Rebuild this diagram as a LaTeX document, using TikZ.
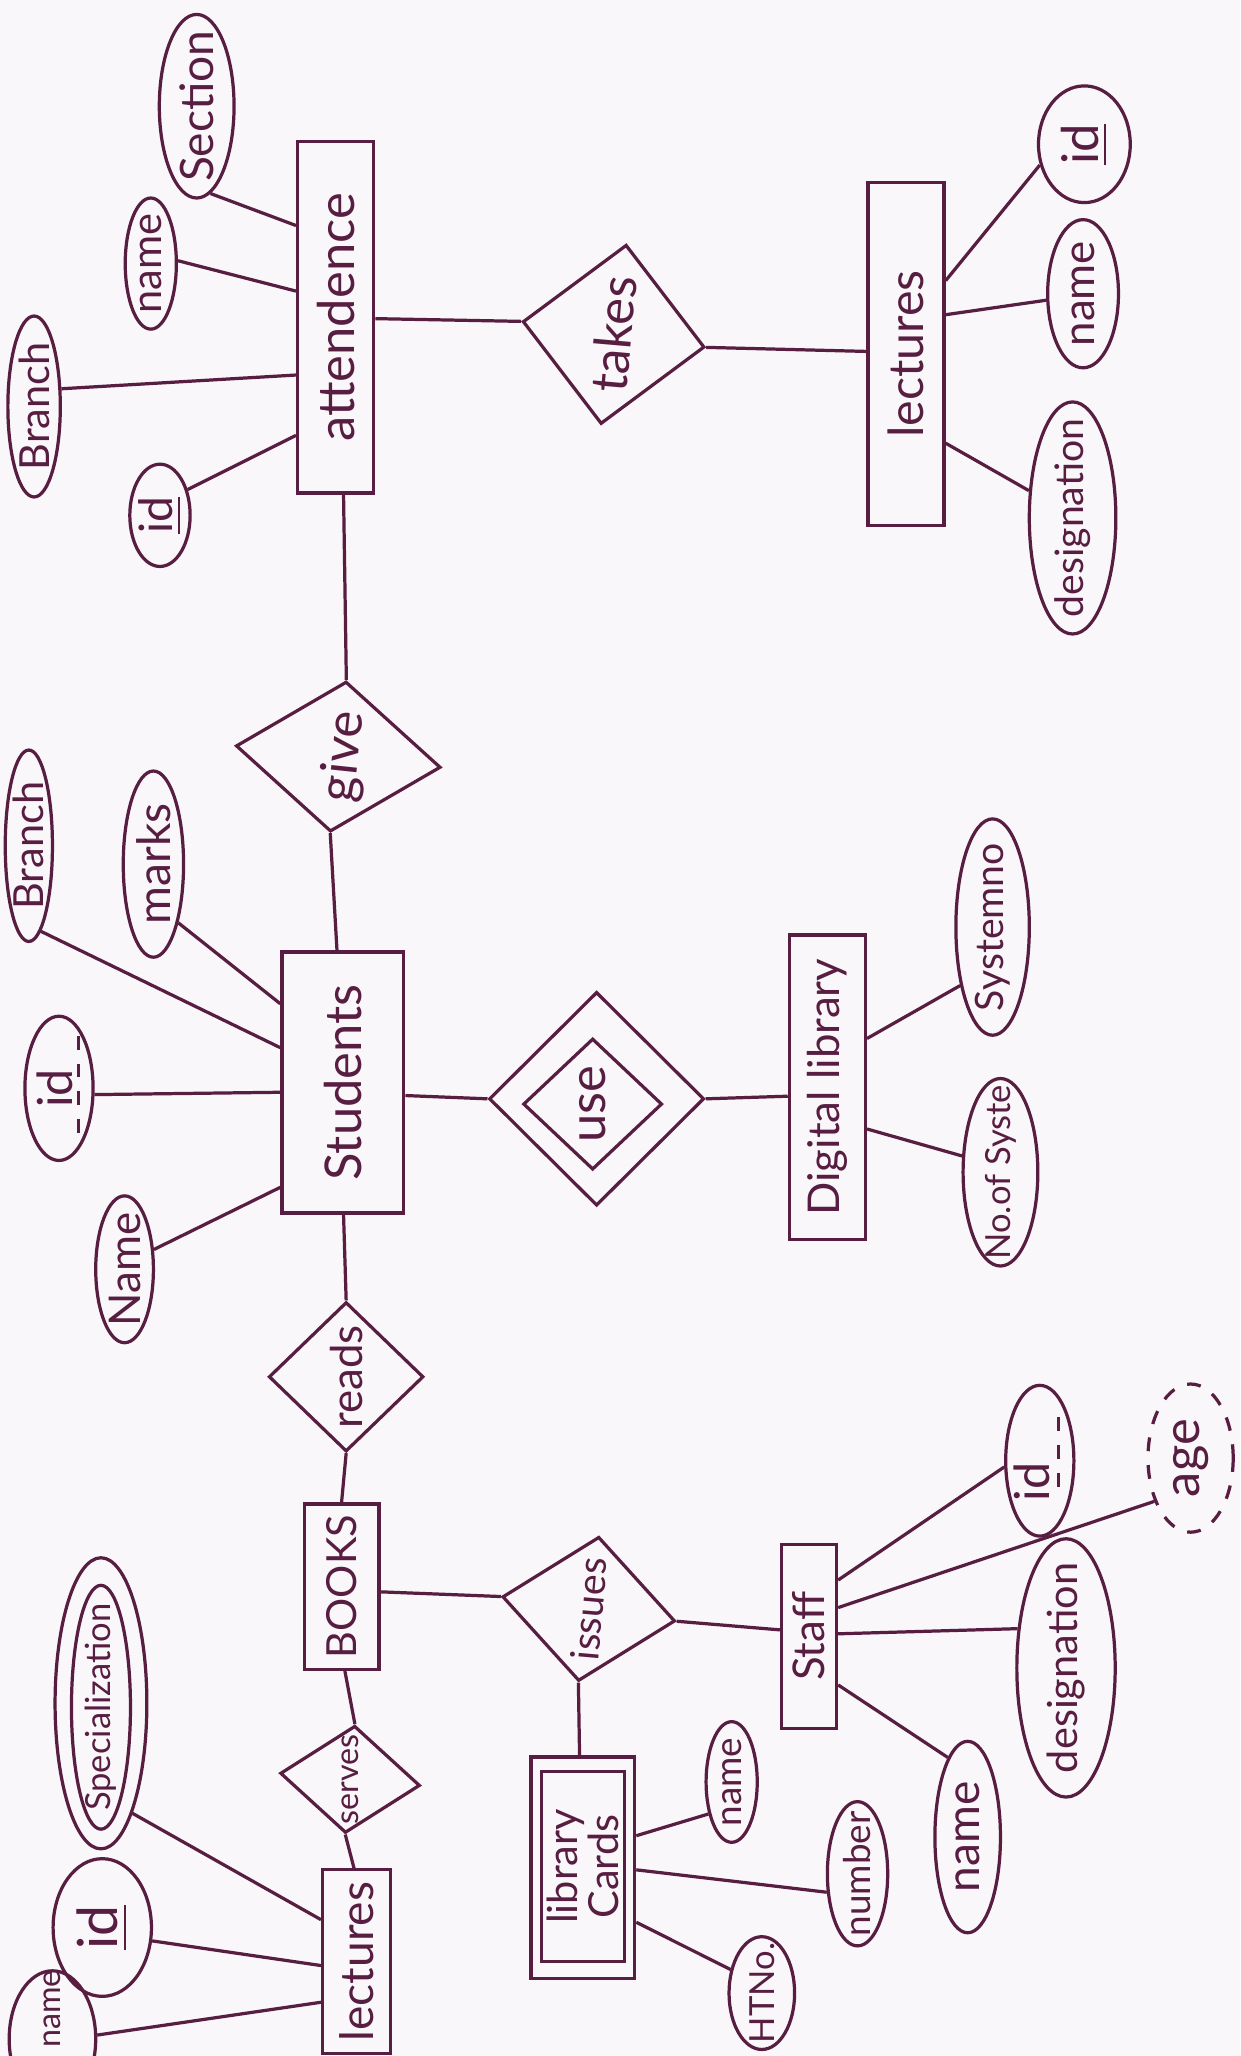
\documentclass[tikz,border=0pt]{standalone}
\usepackage{fontspec}
\setmainfont{Lato}
\usetikzlibrary{shapes.geometric,calc}
\definecolor{ink}{RGB}{88,30,66}
\definecolor{paper}{RGB}{249,247,249}
\newcommand\tsz[1]{\fontsize{#1}{#1}\selectfont}
\tikzset{
  ent/.style={draw=ink, line width=0.7pt, rectangle, inner sep=0pt},
  attr/.style={draw=ink, line width=0.7pt, ellipse, inner sep=0pt},
  rel/.style={draw=ink, line width=0.7pt, diamond, inner sep=0pt},
  lnk/.style={draw=ink, line width=0.7pt},
  lbl/.style={text=ink, inner sep=0pt, rotate=90},
}
\begin{document}
\begin{tikzpicture}[x=0.1mm,y=-0.1mm]
\useasboundingbox (0,0) rectangle (946,1568);
\clip (0,0) rectangle (946,1568);
\fill[paper] (0,0) rectangle (946,1568);

% ---------- top: attendance / takes / lectures
\node[ent, minimum width=5.8mm, minimum height=26.8mm] (att) at (256,242) {};
\node[lbl, font=\tsz{11}] (attT) at (att) {attendence};
\node[attr, minimum width=5.7mm, minimum height=14mm] (sec) at (150,81) {};
\node[lbl, font=\tsz{10}] (secT) at (sec) {Section};
\node[attr, minimum width=3.9mm, minimum height=10mm] (attname) at (115,201) {};
\node[lbl, font=\tsz{9}] (attnameT) at (attname) {name};
\node[attr, minimum width=4mm, minimum height=13.8mm] (attbr) at (26,310) {};
\node[lbl, font=\tsz{9}] (attbrT) at (attbr) {Branch};
\node[attr, minimum width=4.6mm, minimum height=7.8mm] (attid) at (122,393) {};
\node[lbl, font=\tsz{10}] (attidT) at (attid) {\underline{id}};

\node[rel, rotate=-8, minimum width=14mm, minimum height=13.8mm] (takes) at (468,255) {};
\node[lbl, rotate=-5, font=\tsz{11}] (takesT) at (takes) {takes};

\node[ent, minimum width=5.8mm, minimum height=26.2mm] (lec1) at (691,270) {};
\node[lbl, font=\tsz{10.5}] (lec1T) at (lec1) {lectures};
\node[attr, minimum width=7mm, minimum height=8.9mm] (lec1id) at (827,110) {};
\node[lbl, font=\tsz{11}] (lec1idT) at (lec1id) {\underline{id}};
\node[attr, minimum width=5.4mm, minimum height=11.3mm] (lec1name) at (826,224) {};
\node[lbl, font=\tsz{9.5}] (lec1nameT) at (lec1name) {name};
\node[attr, minimum width=6.6mm, minimum height=17.7mm] (lec1des) at (818,395) {};
\node[lbl, font=\tsz{8.5}] (lec1desT) at (lec1des) {designation};

\draw[lnk] ([yshift=7mm]att.west) -- (sec.-81);
\draw[lnk] ([yshift=2mm]att.west) -- (attname.6);
\draw[lnk] ([yshift=-4.4mm]att.west) -- (attbr.33);
\draw[lnk] ([yshift=-9mm]att.west) -- (attid.43);
\draw[lnk] ([yshift=-0.1mm]att.east) -- (takes.west);
\draw[lnk] (takes.east) -- ([yshift=0.2mm]lec1.west);
\draw[lnk] ([yshift=5.6mm]lec1.east) -- (lec1id.205);
\draw[lnk] ([yshift=3mm]lec1.east) -- (lec1name.190);
\draw[lnk] ([yshift=-6.8mm]lec1.east) -- (lec1des.148);

% ---------- middle: give / students / use / digital library
\node[rel, rotate=-6, minimum width=15.7mm, minimum height=11.5mm] (give) at (258,577) {};
\node[lbl, rotate=-6, font=\tsz{11}] (giveT) at ([xshift=0.5mm]give.center) {give};

\node[ent, minimum width=9.3mm, minimum height=19.9mm] (stu) at (261.5,825.5) {};
\node[lbl, font=\tsz{11}] (stuT) at (stu) {Students};
\node[attr, minimum width=3.6mm, minimum height=14.6mm] (stubr) at (22,645) {};
\node[lbl, font=\tsz{9}] (stubrT) at (stubr) {Branch};
\node[attr, minimum width=4.6mm, minimum height=14.2mm] (stumarks) at (117,659) {};
\node[lbl, font=\tsz{10}] (stumarksT) at (stumarks) {marks};
\node[attr, minimum width=5.2mm, minimum height=11mm] (stuid) at (45,830) {};
\node[lbl, font=\tsz{10.5}] (stuidT) at ([xshift=-0.3mm]stuid.center) {id};
\draw[lnk, dashed] ([xshift=1.5mm,yshift=4mm]stuid.center) -- ([xshift=1.5mm,yshift=-4mm]stuid.center);
\node[attr, minimum width=4.4mm, minimum height=11.2mm] (stuname) at (95,968) {};
\node[lbl, font=\tsz{9.5}] (stunameT) at (stuname) {Name};

\node[rel, minimum width=16.4mm, minimum height=16.3mm] (use) at (455,838) {};
\node[rel, minimum width=10.6mm, minimum height=10mm] (usein) at (452,842) {};
\node[lbl, font=\tsz{11}] (useT) at (usein) {use};

\node[ent, minimum width=5.8mm, minimum height=23.2mm] (dl) at (631,829) {};
\node[lbl, font=\tsz{9.5}] (dlT) at (dl) {Digital library};
\node[attr, minimum width=5.6mm, minimum height=16.5mm] (dlsys) at (757,707) {};
\node[lbl, font=\tsz{8.5}] (dlsysT) at (dlsys) {Systemno};
\node[attr, minimum width=5.7mm, minimum height=14.3mm] (dlno) at (763,894) {};
\node[lbl, font=\tsz{7.5}] (dlnoT) at (dlno) {No.of Syste};

\draw[lnk] ([xshift=0.6mm]att.south) -- (give.north);
\draw[lnk] (give.south) -- ([xshift=-0.45mm]stu.north);
\draw[lnk] ([yshift=2.65mm]stu.west) -- (stubr.-82);
\draw[lnk] ([yshift=6mm]stu.west) -- (stumarks.-67);
\draw[lnk] ([yshift=-0.75mm]stu.west) -- (stuid.-10);
\draw[lnk] ([yshift=-8mm]stu.west) -- (stuname.34);
\draw[lnk] ([yshift=-1mm]stu.east) -- (use.west);
\draw[lnk] (use.east) -- ([yshift=-0.7mm]dl.west);
\draw[lnk] ([yshift=3.7mm]dl.east) -- (dlsys.241);
\draw[lnk] ([yshift=-3.2mm]dl.east) -- (dlno.157);

% ---------- bottom: reads / books / serves / lectures / issues / staff / library cards
\node[rel, minimum width=11.8mm, minimum height=11.4mm] (reads) at (264,1050) {};
\node[lbl, font=\tsz{9.5}] (readsT) at (reads) {reads};
\node[ent, minimum width=5.7mm, minimum height=12.6mm] (books) at (260.5,1210) {};
\node[lbl, font=\tsz{9}] (booksT) at (books) {BOOKS};
\node[rel, rotate=-5, minimum width=10.7mm, minimum height=8.2mm] (serves) at (267,1357) {};
\node[lbl, font=\tsz{7}] (servesT) at (serves) {serves};
\node[ent, minimum width=5.2mm, minimum height=14mm] (lec2) at (272,1496) {};
\node[lbl, font=\tsz{10}] (lec2T) at (lec2) {lectures};
\node[attr, minimum width=7mm, minimum height=22.2mm] (spec) at (77,1299) {};
\node[attr, minimum width=4.5mm, minimum height=18.6mm] (specin) at (77,1302) {};
\node[lbl, font=\tsz{7.5}] (specT) at (specin) {Specialization};
\node[attr, minimum width=7.5mm, minimum height=10.5mm] (lec2id) at (78,1470) {};
\node[lbl, font=\tsz{12}] (lec2idT) at (lec2id) {\underline{id}};
\node[attr, minimum width=6.6mm, minimum height=10.4mm] (lec2name) at (40,1555) {};
\node[lbl, font=\tsz{7}] (lec2nameT) at ([yshift=2.3mm]lec2name.center) {name};

\node[rel, rotate=-8, minimum width=13.3mm, minimum height=11.1mm] (issues) at (449,1227) {};
\node[lbl, rotate=-5, font=\tsz{8.5}] (issuesT) at (issues) {issues};
\node[ent, minimum width=4.2mm, minimum height=14mm] (staff) at (617,1248) {};
\node[lbl, font=\tsz{9.5}] (staffT) at (staff) {Staff};

\node[ent, minimum width=7.9mm, minimum height=16.9mm] (lc) at (444.5,1424.5) {};
\node[ent, minimum width=6.3mm, minimum height=14.5mm] (lcin) at (444.5,1423.5) {};
\node[lbl, font=\tsz{9}, align=center] (lcT) at (lcin) {library\\Cards};
\node[attr, minimum width=3.9mm, minimum height=9.2mm] (lcname) at (558,1359) {};
\node[lbl, font=\tsz{8}] (lcnameT) at (lcname) {name};
\node[attr, minimum width=4.6mm, minimum height=11mm] (lcnum) at (654,1429) {};
\node[lbl, font=\tsz{8}] (lcnumT) at (lcnum) {number};
\node[attr, minimum width=5mm, minimum height=8.6mm] (lcht) at (581,1520) {};
\node[lbl, font=\tsz{7.5}] (lchtT) at (lcht) {HTNo.};

\node[attr, minimum width=5.2mm, minimum height=11.5mm] (stid) at (793,1114) {};
\node[lbl, font=\tsz{10.5}] (stidT) at ([xshift=-0.6mm,yshift=-1.6mm]stid.center) {id};
\draw[lnk, dashed] ([xshift=1.4mm,yshift=3.3mm]stid.center) -- ([xshift=1.4mm,yshift=-2.4mm]stid.center);
\node[attr, dashed, minimum width=6.5mm, minimum height=11.3mm] (stage) at (908,1112) {};
\node[lbl, font=\tsz{11}] (stageT) at (stage) {age};
\node[attr, minimum width=7.5mm, minimum height=19.7mm] (stdes) at (813,1272) {};
\node[lbl, font=\tsz{9}] (stdesT) at (stdes) {designation};
\node[attr, minimum width=5mm, minimum height=14.6mm] (stname) at (738,1401) {};
\node[lbl, font=\tsz{10}] (stnameT) at (stname) {name};

\draw[lnk] ([xshift=0.05mm]stu.south) -- (reads.north);
\draw[lnk] (reads.south) -- (books.north);
\draw[lnk] ([yshift=-0.4mm]books.east) -- (issues.west);
\draw[lnk] ([xshift=0.25mm]books.south) -- (serves.north);
\draw[lnk] (serves.south) -- ([xshift=-0.2mm]lec2.north);
\draw[lnk] ([yshift=3.2mm]lec2.west) -- (spec.-74);
\draw[lnk] ([yshift=-0.3mm]lec2.west) -- (lec2id.-15);
\draw[lnk] ([yshift=-3.1mm]lec2.west) -- (lec2name.5);
\draw[lnk] (issues.east) -- ([yshift=0.5mm]staff.west);
\draw[lnk] (issues.south) -- ([xshift=-0.25mm]lc.north);
\draw[lnk] ([yshift=2.45mm]lc.east) -- (lcname.234);
\draw[lnk] ([yshift=-0.15mm]lc.east) -- (lcnum.211);
\draw[lnk] ([yshift=-4.15mm]lc.east) -- (lcht.143);
\draw[lnk] ([yshift=4.3mm]staff.east) -- (stid.190);
\draw[lnk] ([yshift=2.2mm]staff.east) -- (stage.230);
\draw[lnk] ([yshift=0.2mm]staff.east) -- (stdes.141);
\draw[lnk] ([yshift=-3.7mm]staff.east) -- (stname.104);
\end{tikzpicture}
\end{document}
